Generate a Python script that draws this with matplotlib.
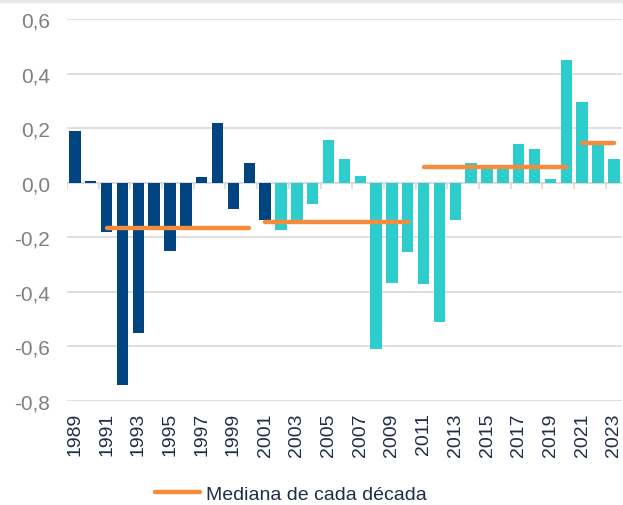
import matplotlib.pyplot as plt
from matplotlib.lines import Line2D
from matplotlib.patches import Rectangle
import numpy as np

years = list(range(1989, 2024))
values = [0.19, 0.005, -0.18, -0.74, -0.55, -0.16, -0.25, -0.16, 0.02, 0.22,
          -0.095, 0.072, -0.138, -0.172, -0.14, -0.077, 0.157, 0.087, 0.025, -0.61,
          -0.367, -0.253, -0.372, -0.509, -0.137, 0.072, 0.055, 0.055, 0.141, 0.122,
          0.015, 0.449, 0.295, 0.145, 0.087]

# medianas por década (inicio, fin, valor)
med_start = [1991, 2001, 2011, 2021]
med_end = [2000, 2010, 2020, 2023]
med_value = [-0.165, -0.145, 0.058, 0.145]

navy = '#004481'
aqua = '#2dcccd'
orange = '#f58b3c'
grid_col = '#d9d9d9'

plt.rcParams['font.family'] = ['Liberation Sans', 'DejaVu Sans']

fig = plt.figure(figsize=(6.23, 5.06), dpi=100)
fig.patches.append(Rectangle((0, 1 - 3 / 506), 1, 3 / 506, transform=fig.transFigure,
                             color='#e6e6e6', zorder=0))
ax = fig.add_axes([0.1075, 0.2055, 0.8905, 0.755])

x = np.arange(len(years))
colors = [navy if y <= 2001 else aqua for y in years]
ax.bar(x, values, width=0.72, color=colors, zorder=2)

for s, e, v in zip(med_start, med_end, med_value):
    ax.plot([years.index(s), years.index(e)], [v, v], color=orange, lw=3.2,
            solid_capstyle='round', zorder=3)

# eje en cero con marcas cada dos años
ax.axhline(0, color=grid_col, lw=1.2, zorder=1)
bounds = np.arange(-0.5, len(years), 2)
ax.plot(bounds, np.zeros_like(bounds), ls='none', marker=3, ms=4, mew=1.2,
        color=grid_col, zorder=1)

ax.set_xlim(-0.5, len(years) - 0.5)
ax.set_ylim(-0.8, 0.6)
yt = np.arange(-0.8, 0.61, 0.2)
ax.set_yticks(yt)
ax.set_yticklabels([f'{v:.1f}'.replace('.', ',').replace('-0,0', '0,0') for v in yt],
                   color='#808080', fontsize=15)
ax.set_xticks(x[::2])
ax.set_xticklabels([str(y) for y in years[::2]], rotation=90, color='#1f2d4a', fontsize=14)
ax.tick_params(length=0, pad=8)
ax.tick_params(axis='y', pad=12)
ax.grid(axis='y', color=grid_col, lw=1.2, zorder=0)
for sp in ax.spines.values():
    sp.set_visible(False)

handle = Line2D([], [], color=orange, lw=3.2, solid_capstyle='round')
fig.legend([handle], ['Mediana de cada década'], loc='center left',
           bbox_to_anchor=(155 / 623, 0.022), borderpad=0, borderaxespad=0,
           frameon=False, fontsize=14, handlelength=2.3, handletextpad=0.3,
           labelcolor='#1f2d4a')

fig.savefig('out.png', dpi=100)
